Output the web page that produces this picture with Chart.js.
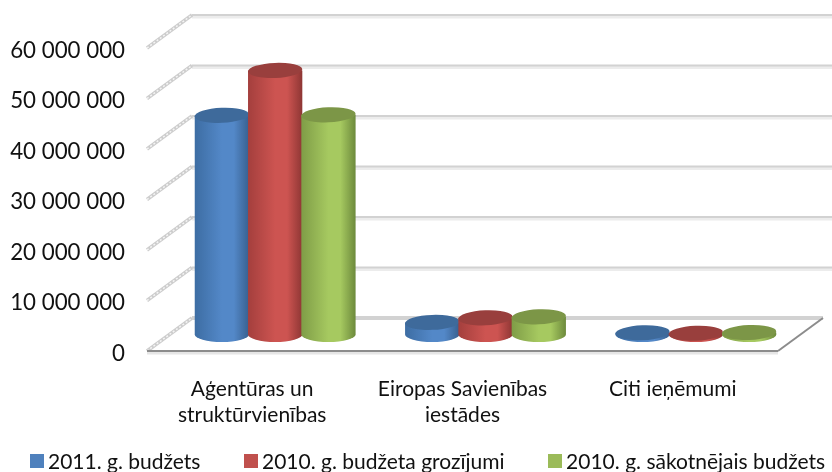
<!DOCTYPE html>
<html>
<head>
<meta charset="utf-8">
<script src="https://cdn.jsdelivr.net/npm/chart.js@4"></script>
<style>
  html, body { margin: 0; background: #fff; }
  #wrap { position: relative; width: 832px; height: 472px; overflow: hidden; }
  #legend { position: absolute; left: 30px; top: 448px; display: flex; font: 21px Lato, sans-serif; color: #111; white-space: nowrap; }
  #legend span.item { display: flex; align-items: center; margin-right: 43.5px; }
  #legend i { width: 14px; height: 14px; margin-right: 4px; display: block; }
</style>
</head>
<body>
<div id="wrap">
  <canvas id="chart" width="832" height="472"></canvas>
  <div id="legend"></div>
</div>
<script>
const categories = [["Aģentūras un", "struktūrvienības"], ["Eiropas Savienības", "iestādes"], "Citi ieņēmumi"];
const seriesNames = ["2011. g. budžets", "2010. g. budžeta grozījumi", "2010. g. sākotnējais budžets"];
const budget2011 = [43400000, 2400000, 350000];
const amended2010 = [52300000, 3300000, 250000];
const initial2010 = [43500000, 3500000, 400000];

// [legend, dark edge, highlight, far edge, top cap]
const palette = [
  ["#4f81bd", "#3d6da3", "#5388c8", "#38608f", "#3e6a9b"],
  ["#c0504d", "#a43f3d", "#cd5451", "#8e3634", "#993f3d"],
  ["#9bbb59", "#7f9d47", "#a6c960", "#6d8a3c", "#7c9647"],
];

// how far the back wall sits from the front of the 3D box
const depthX = 45;
const depthY = -33;

function drawLine(ctx, x1, y1, x2, y2, color, width, dash) {
  ctx.save();
  ctx.beginPath();
  ctx.setLineDash(dash || []);
  ctx.strokeStyle = color;
  ctx.lineWidth = width;
  ctx.moveTo(x1, y1);
  ctx.lineTo(x2, y2);
  ctx.stroke();
  ctx.restore();
}

const box3d = {
  id: "box3d",
  beforeDatasetsDraw(chart) {
    const { ctx, chartArea, scales } = chart;
    const { left, right } = chartArea;

    scales.y.ticks.forEach((tick) => {
      const y = scales.y.getPixelForValue(tick.value);
      // wall line with its soft shadow
      if (tick.value > 0) {
        drawLine(ctx, left + depthX, y + depthY + 2, right + depthX + 9, y + depthY + 2, "#ececec", 3);
        drawLine(ctx, left + depthX, y + depthY, right + depthX + 9, y + depthY, "#d2d2d2", 2);
      }
      // side wall line, grainy in the original
      drawLine(ctx, left, y, left + depthX, y + depthY, "#cdcdcd", 3.5);
      drawLine(ctx, left, y, left + depthX, y + depthY, "#f4f4f4", 1.5, [2, 2]);
    });

    // floor
    const y0 = scales.y.getPixelForValue(0);
    drawLine(ctx, left + depthX, y0 + depthY, right + depthX, y0 + depthY, "#d2d2d2", 4);
    drawLine(ctx, left, y0 + 2, right, y0 + 2, "#e6e6e6", 3);
    drawLine(ctx, left, y0, right, y0, "#8c8c8c", 2);
    drawLine(ctx, right, y0, right + depthX, y0 + depthY, "#8c8c8c", 2);
  },
  afterDatasetsDraw(chart) {
    const { ctx } = chart;
    chart.data.datasets.forEach((ds, i) => {
      const colors = palette[i];
      chart.getDatasetMeta(i).data.forEach((bar) => {
        const w = bar.width / 2 + 0.5;
        const cx = bar.x + depthX / 2 + 0.5;
        const top = bar.y + depthY / 2;
        const bottom = bar.base + depthY / 2;
        const ry = 7.5;

        const grad = ctx.createLinearGradient(cx - w, 0, cx + w, 0);
        grad.addColorStop(0, colors[1]);
        grad.addColorStop(0.5, colors[2]);
        grad.addColorStop(0.72, colors[2]);
        grad.addColorStop(1, colors[3]);

        ctx.save();
        ctx.filter = "blur(0.5px)";
        ctx.fillStyle = grad;
        ctx.beginPath();
        ctx.ellipse(cx, bottom, w, ry, 0, 0, Math.PI);
        ctx.lineTo(cx - w, top);
        ctx.lineTo(cx + w, top);
        ctx.closePath();
        ctx.fill();

        ctx.fillStyle = colors[4];
        ctx.beginPath();
        ctx.ellipse(cx, top, w, ry, -0.04, 0, Math.PI * 2);
        ctx.fill();
        ctx.restore();
      });
    });
  },
};

const values = [budget2011, amended2010, initial2010];

new Chart(document.getElementById("chart"), {
  type: "bar",
  data: {
    labels: categories,
    datasets: seriesNames.map((name, i) => ({
      label: name,
      data: values[i],
      backgroundColor: "transparent",
      categoryPercentage: 0.76,
      barPercentage: 1,
    })),
  },
  options: {
    responsive: false,
    animation: false,
    layout: { padding: { top: 48, right: 54, bottom: 42, left: 0 } },
    plugins: { legend: { display: false }, tooltip: { enabled: false } },
    scales: {
      x: {
        grid: { display: false },
        border: { display: false },
        afterFit(scale) { scale.height = 79; },
        ticks: {
          color: "#111",
          font: { family: "Lato", size: 21, lineHeight: 1.24 },
          padding: 17,
          maxRotation: 0,
          autoSkip: false,
        },
      },
      y: {
        min: 0,
        max: 60000000,
        grid: { display: false },
        border: { display: false },
        afterFit(scale) { scale.width = 147; },
        ticks: {
          stepSize: 10000000,
          color: "#111",
          padding: 14,
          labelOffset: 2.5,
          font: { family: "Lato", size: 22.3 },
          callback: (v) => String(v).replace(/\B(?=(\d{3})+$)/g, " "),
        },
      },
    },
  },
  plugins: [box3d],
});

const legend = document.getElementById("legend");
seriesNames.forEach((name, i) => {
  const item = document.createElement("span");
  item.className = "item";
  item.innerHTML = `<i style="background:${palette[i][0]}"></i>${name}`;
  legend.appendChild(item);
});
</script>
</body>
</html>
